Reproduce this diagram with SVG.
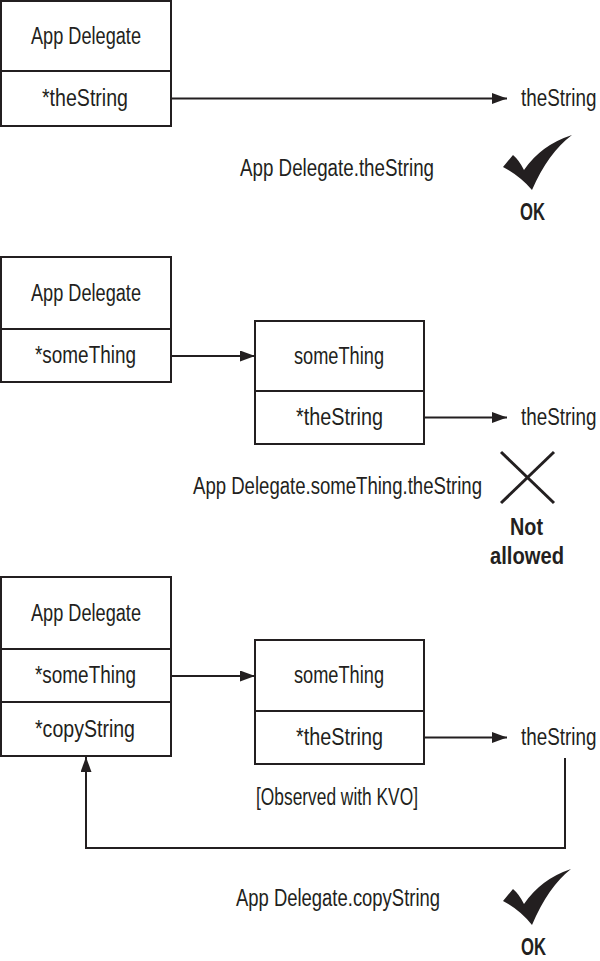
<svg xmlns="http://www.w3.org/2000/svg" width="600" height="961" viewBox="0 0 600 961">
<style>
  .box{fill:#fff;stroke:#231f20;stroke-width:2}
  .div{stroke:#231f20;stroke-width:2}
  .t{font-family:"Liberation Sans",Arial,sans-serif;font-size:23px;fill:#231f20}
  .b{font-family:"Liberation Sans",Arial,sans-serif;font-size:23px;font-weight:bold;fill:#231f20}
  .c{fill:none;stroke:#231f20;stroke-width:2}
  .x{stroke:#231f20;stroke-width:3}
  .chk{fill:#231f20}
</style>
<defs>
  <marker id="ah" markerUnits="userSpaceOnUse" markerWidth="16" markerHeight="12" refX="15" refY="5.5" orient="auto">
    <path d="M0,0 L15,5.5 L0,11 Z" fill="#231f20"/>
  </marker>
</defs>

<g id="connectors">
  <line class="c" x1="171" y1="98.5" x2="507" y2="98.5" marker-end="url(#ah)"/>
  <line class="c" x1="171" y1="356" x2="255" y2="356" marker-end="url(#ah)"/>
  <line class="c" x1="424" y1="417.5" x2="507" y2="417.5" marker-end="url(#ah)"/>
  <line class="c" x1="171" y1="676" x2="255" y2="676" marker-end="url(#ah)"/>
  <line class="c" x1="424" y1="737.5" x2="507" y2="737.5" marker-end="url(#ah)"/>
  <polyline class="c" points="565,758 565,848 86,848 86,757" marker-end="url(#ah)"/>
  <text class="t" x="256" y="805" textLength="162" lengthAdjust="spacingAndGlyphs">[Observed with KVO]</text>
</g>

<!-- Section 1 -->
<g id="appDelegate1">
  <rect class="box" x="1" y="1" width="170" height="125"/>
  <line class="div" x1="1" y1="71" x2="171" y2="71"/>
  <text class="t" x="31" y="43.5" textLength="110" lengthAdjust="spacingAndGlyphs">App Delegate</text>
  <text class="t" x="42" y="106" textLength="86" lengthAdjust="spacingAndGlyphs">*theString</text>
</g>
<g id="theString1">
  <text class="t" transform="translate(521,106) scale(0.82,1)" x="0" y="0">theString</text>
</g>
<g id="keypath1">
  <text class="t" x="240" y="176" textLength="194" lengthAdjust="spacingAndGlyphs">App Delegate.theString</text>
</g>
<g id="ok1">
  <path class="chk" d="M503,167 L513,155 Q519,160 524,170 Q541,145 572,135 Q548,153 532,190 Q520,176 503,167 Z"/>
  <text class="b" x="520" y="220" textLength="25" lengthAdjust="spacingAndGlyphs">OK</text>
</g>

<!-- Section 2 -->
<g id="appDelegate2">
  <rect class="box" x="1" y="257" width="170" height="125"/>
  <line class="div" x1="1" y1="329" x2="171" y2="329"/>
  <text class="t" x="31" y="300.5" textLength="110" lengthAdjust="spacingAndGlyphs">App Delegate</text>
  <text class="t" x="35" y="363" textLength="101" lengthAdjust="spacingAndGlyphs">*someThing</text>
</g>
<g id="someThing2">
  <rect class="box" x="255" y="321" width="169" height="123"/>
  <line class="div" x1="255" y1="391" x2="424" y2="391"/>
  <text class="t" x="294" y="363.5" textLength="90" lengthAdjust="spacingAndGlyphs">someThing</text>
  <text class="t" x="296" y="425" textLength="87" lengthAdjust="spacingAndGlyphs">*theString</text>
</g>
<g id="theString2">
  <text class="t" transform="translate(521,425) scale(0.82,1)" x="0" y="0">theString</text>
</g>
<g id="keypath2">
  <text class="t" x="193" y="494" textLength="289" lengthAdjust="spacingAndGlyphs">App Delegate.someThing.theString</text>
</g>
<g id="notAllowed">
  <line class="x" x1="501" y1="452" x2="554" y2="503"/>
  <line class="x" x1="554" y1="452" x2="501" y2="503"/>
  <text class="b" x="510" y="535" textLength="33" lengthAdjust="spacingAndGlyphs">Not</text>
  <text class="b" x="490" y="564" textLength="74" lengthAdjust="spacingAndGlyphs">allowed</text>
</g>

<!-- Section 3 -->
<g id="appDelegate3">
  <rect class="box" x="1" y="577" width="170" height="179"/>
  <line class="div" x1="1" y1="649" x2="171" y2="649"/>
  <line class="div" x1="1" y1="702" x2="171" y2="702"/>
  <text class="t" x="31" y="620.5" textLength="110" lengthAdjust="spacingAndGlyphs">App Delegate</text>
  <text class="t" x="35" y="683" textLength="101" lengthAdjust="spacingAndGlyphs">*someThing</text>
  <text class="t" x="35" y="736.5" textLength="100" lengthAdjust="spacingAndGlyphs">*copyString</text>
</g>
<g id="someThing3">
  <rect class="box" x="255" y="640" width="169" height="124"/>
  <line class="div" x1="255" y1="711" x2="424" y2="711"/>
  <text class="t" x="294" y="683" textLength="90" lengthAdjust="spacingAndGlyphs">someThing</text>
  <text class="t" x="296" y="745" textLength="87" lengthAdjust="spacingAndGlyphs">*theString</text>
</g>
<g id="theString3">
  <text class="t" transform="translate(521,745) scale(0.82,1)" x="0" y="0">theString</text>
</g>
<g id="keypath3">
  <text class="t" x="236" y="906" textLength="204" lengthAdjust="spacingAndGlyphs">App Delegate.copyString</text>
</g>
<g id="ok3">
  <path class="chk" d="M503,901 L513,889 Q519,894 524,904 Q541,879 571,869 Q548,887 532,925 Q520,910 503,901 Z"/>
  <text class="b" x="521" y="955" textLength="25" lengthAdjust="spacingAndGlyphs">OK</text>
</g>
</svg>
